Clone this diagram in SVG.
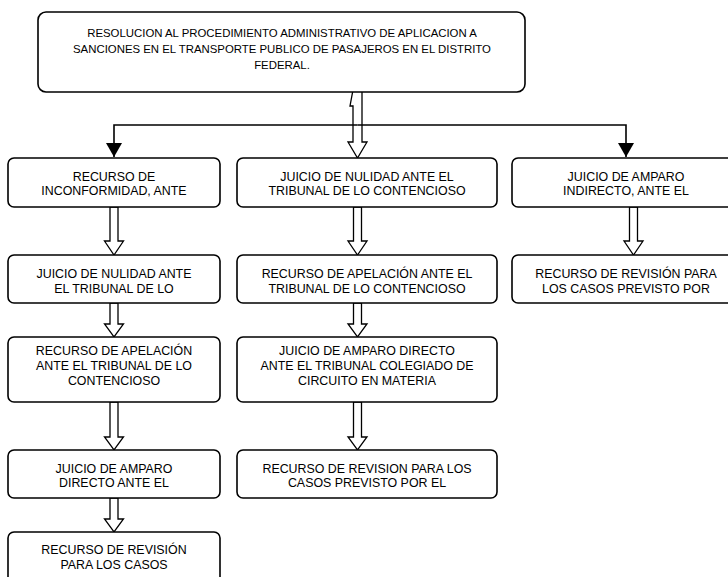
<svg xmlns="http://www.w3.org/2000/svg" width="728" height="577" viewBox="0 0 728 577">
<style>
.box{fill:#fff;stroke:#000;stroke-width:1.6}
.t{font-family:"Liberation Sans",Arial,sans-serif;font-size:12.4px;fill:#000;text-anchor:middle}
.tt{font-family:"Liberation Sans",Arial,sans-serif;font-size:11.4px;fill:#000;text-anchor:middle}
.ha{fill:#fff;stroke:#000;stroke-width:1.3;stroke-linejoin:miter}
.ln{fill:none;stroke:#000;stroke-width:1.6}
</style>
<defs>
<marker id="tri" markerUnits="userSpaceOnUse" markerWidth="18" markerHeight="16" refX="14" refY="8" orient="auto">
<path d="M0,0 L14,8 L0,16 Z" fill="#000"/>
</marker>
</defs>
<rect width="728" height="577" fill="#fff"/>
<g id="connectors">
<path class="ha" d="M353,142 L353,106 L350,106 L353,90 L362,90 L362,142 L367,142 L357.5,158 L348,142 Z"/>
<path class="ln" d="M357.5,125 H114 V157" marker-end="url(#tri)"/>
<path class="ln" d="M357.5,125 H626 V157" marker-end="url(#tri)"/>
<path class="ha" d="M110,207 H118 V241 H123.5 L114,255 L104.5,241 H110 Z"/>
<path class="ha" d="M110,303 H118 V324 H123.5 L114,337 L104.5,324 H110 Z"/>
<path class="ha" d="M110,402 H118 V437 H123.5 L114,450 L104.5,437 H110 Z"/>
<path class="ha" d="M110,498 H118 V519 H123.5 L114,532 L104.5,519 H110 Z"/>
<path class="ha" d="M353.5,207 H361.5 V241 H367 L357.5,255 L348,241 H353.5 Z"/>
<path class="ha" d="M353.5,303 H361.5 V324 H367 L357.5,337 L348,324 H353.5 Z"/>
<path class="ha" d="M353.5,402 H361.5 V437 H367 L357.5,450 L348,437 H353.5 Z"/>
<path class="ha" d="M629.5,207 H637.5 V241 H643 L633.5,255 L624,241 H629.5 Z"/>
</g>
<g id="n0">
<rect class="box" x="38" y="12" width="487" height="80" rx="8"/>
<text class="tt" x="282" y="37">RESOLUCION AL PROCEDIMIENTO ADMINISTRATIVO DE APLICACION A</text>
<text class="tt" x="282" y="53">SANCIONES EN EL TRANSPORTE PUBLICO DE PASAJEROS EN EL DISTRITO</text>
<text class="tt" x="282" y="69">FEDERAL.</text>
</g>
<g id="l1">
<rect class="box" x="8" y="158" width="212" height="49" rx="6"/>
<text class="t" x="114" y="180.5">RECURSO DE</text>
<text class="t" x="114" y="195">INCONFORMIDAD, ANTE</text>
</g>
<g id="l2">
<rect class="box" x="8" y="255" width="212" height="48" rx="6"/>
<text class="t" x="114" y="277.5">JUICIO DE NULIDAD ANTE</text>
<text class="t" x="114" y="292.5">EL TRIBUNAL DE LO</text>
</g>
<g id="l3">
<rect class="box" x="8" y="337" width="212" height="65" rx="6"/>
<text class="t" x="114" y="354.5">RECURSO DE APELACIÓN</text>
<text class="t" x="114" y="369.5">ANTE EL TRIBUNAL DE LO</text>
<text class="t" x="114" y="384.5">CONTENCIOSO</text>
</g>
<g id="l4">
<rect class="box" x="8" y="450" width="212" height="48" rx="6"/>
<text class="t" x="114" y="472.5">JUICIO DE AMPARO</text>
<text class="t" x="114" y="486.5">DIRECTO ANTE EL</text>
</g>
<g id="l5">
<rect class="box" x="8" y="532" width="212" height="60" rx="6"/>
<text class="t" x="114" y="553.5">RECURSO DE REVISIÓN</text>
<text class="t" x="114" y="568.5">PARA LOS CASOS</text>
</g>
<g id="m1">
<rect class="box" x="237" y="158" width="260" height="49" rx="6"/>
<text class="t" x="367" y="180.5">JUICIO DE NULIDAD ANTE EL</text>
<text class="t" x="367" y="195">TRIBUNAL DE LO CONTENCIOSO</text>
</g>
<g id="m2">
<rect class="box" x="237" y="255" width="260" height="48" rx="6"/>
<text class="t" x="367" y="277.5">RECURSO DE APELACIÓN ANTE EL</text>
<text class="t" x="367" y="292.5">TRIBUNAL DE LO CONTENCIOSO</text>
</g>
<g id="m3">
<rect class="box" x="237" y="337" width="260" height="65" rx="6"/>
<text class="t" x="367" y="354.5">JUICIO DE AMPARO DIRECTO</text>
<text class="t" x="367" y="369.5">ANTE EL TRIBUNAL COLEGIADO DE</text>
<text class="t" x="367" y="384.5">CIRCUITO EN MATERIA</text>
</g>
<g id="m4">
<rect class="box" x="237" y="450" width="260" height="48" rx="6"/>
<text class="t" x="367" y="472.5">RECURSO DE REVISION PARA LOS</text>
<text class="t" x="367" y="486.5">CASOS PREVISTO POR EL</text>
</g>
<g id="r1">
<rect class="box" x="512" y="158" width="228" height="49" rx="6"/>
<text class="t" x="626" y="180.5">JUICIO DE AMPARO</text>
<text class="t" x="626" y="195">INDIRECTO, ANTE EL</text>
</g>
<g id="r2">
<rect class="box" x="512" y="255" width="228" height="48" rx="6"/>
<text class="t" x="626" y="277.5">RECURSO DE REVISIÓN PARA</text>
<text class="t" x="626" y="292.5">LOS CASOS PREVISTO POR</text>
</g>
</svg>
